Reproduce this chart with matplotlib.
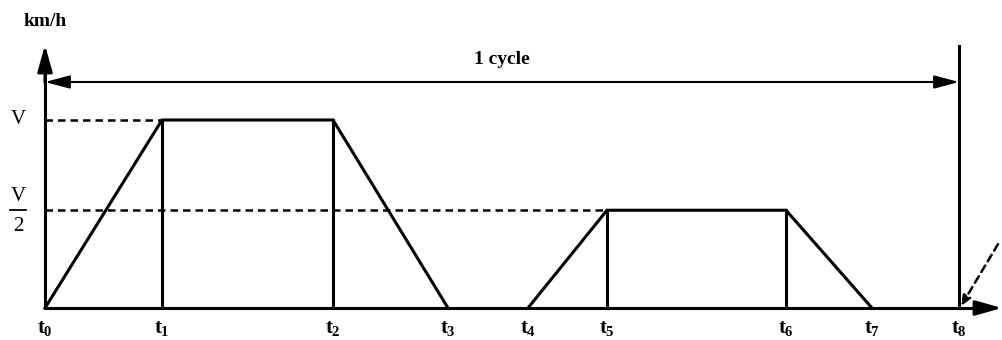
import matplotlib
matplotlib.use("Agg")
import matplotlib.pyplot as plt

# time marks (arbitrary units) and speed levels (V = 1)
t_names = ["t0", "t1", "t2", "t3", "t4", "t5", "t6", "t7", "t8"]
t_vals = [0, 117, 288, 403, 483, 562, 741, 827, 914]
V = 1.0
v_half = 0.52

# speed profile of one cycle
prof1_t = [t_vals[0], t_vals[1], t_vals[2], t_vals[3]]
prof1_v = [0, V, V, 0]
prof2_t = [t_vals[4], t_vals[5], t_vals[6], t_vals[7]]
prof2_v = [0, v_half, v_half, 0]

font = "Liberation Serif"
plt.rcParams["mathtext.fontset"] = "custom"
plt.rcParams["mathtext.rm"] = font + ":bold"
plt.rcParams["mathtext.it"] = font + ":bold"
plt.rcParams["mathtext.bf"] = font + ":bold"

fig = plt.figure(figsize=(10.03, 3.4), dpi=100)
ax = fig.add_axes([0, 0, 1, 1])
ax.set_xlim(-45, 958)
ax.set_ylim(-32 / 188, 308 / 188)
ax.axis("off")

lw = 2.2

ax.plot(prof1_t, prof1_v, color="black", lw=lw, solid_joinstyle="miter")
ax.plot(prof2_t, prof2_v, color="black", lw=lw, solid_joinstyle="miter")
# verticals under the plateaus
for t, v in [(t_vals[1], V), (t_vals[2], V), (t_vals[5], v_half), (t_vals[6], v_half)]:
    ax.plot([t, t], [0, v], color="black", lw=lw)

# dashed reference levels
ax.plot([0, t_vals[1]], [V, V], color="black", lw=1.8, ls=(0, (3, 2)))
ax.plot([0, t_vals[5]], [v_half, v_half], color="black", lw=1.8, ls=(0, (3, 2)))

# axes with arrows
ax.plot([0, 940], [0, 0], color="black", lw=lw)
ax.annotate("", xy=(957, 0), xytext=(930, 0),
            arrowprops=dict(arrowstyle="-|>,head_length=1.6,head_width=0.45",
                            color="black", lw=lw, shrinkA=0, shrinkB=0))
ax.plot([0, 0], [0, 1.3], color="black", lw=lw)
ax.annotate("", xy=(0, 263 / 188), xytext=(0, 1.2),
            arrowprops=dict(arrowstyle="-|>,head_length=1.6,head_width=0.45",
                            color="black", lw=lw, shrinkA=0, shrinkB=0))

# end-of-cycle line
ax.plot([t_vals[8], t_vals[8]], [0, 262 / 188], color="black", lw=lw)

# cycle arrow
y_cyc = 226 / 188
ax.annotate("", xy=(0, y_cyc), xytext=(t_vals[8], y_cyc),
            arrowprops=dict(arrowstyle="<|-|>,head_length=1.5,head_width=0.4",
                            color="black", lw=1.5, shrinkA=0, shrinkB=0))
ax.text(457, 248 / 188, "1 cycle", ha="center", va="center",
        fontsize=14, fontweight="bold", family=font)

# next cycle start (dashed)
ax.annotate("", xy=(t_vals[8] + 2, 0.01), xytext=(953, 0.34),
            arrowprops=dict(arrowstyle="-|>,head_length=0.6,head_width=0.25",
                            color="black", lw=1.8, ls=(0, (3, 2)),
                            shrinkA=0, shrinkB=0))

# labels
ax.text(0, 287 / 188, "km/h", ha="center", va="center",
        fontsize=14, fontweight="bold", family=font)
ax.text(-27, V, "V", ha="center", va="center", fontsize=15, family=font)
ax.text(-27, v_half + 0.075, "V", ha="center", va="center", fontsize=15, family=font)
ax.plot([-35, -19], [v_half, v_half], color="black", lw=1.3)
ax.text(-27, v_half - 0.085, "2", ha="center", va="center", fontsize=15, family=font)

for name, t in zip(t_names, t_vals):
    ax.text(t, -20 / 188, "$t_{%s}$" % name[1:], ha="center", va="center",
            fontsize=15, family=font)

fig.savefig("out.png", dpi=100)
